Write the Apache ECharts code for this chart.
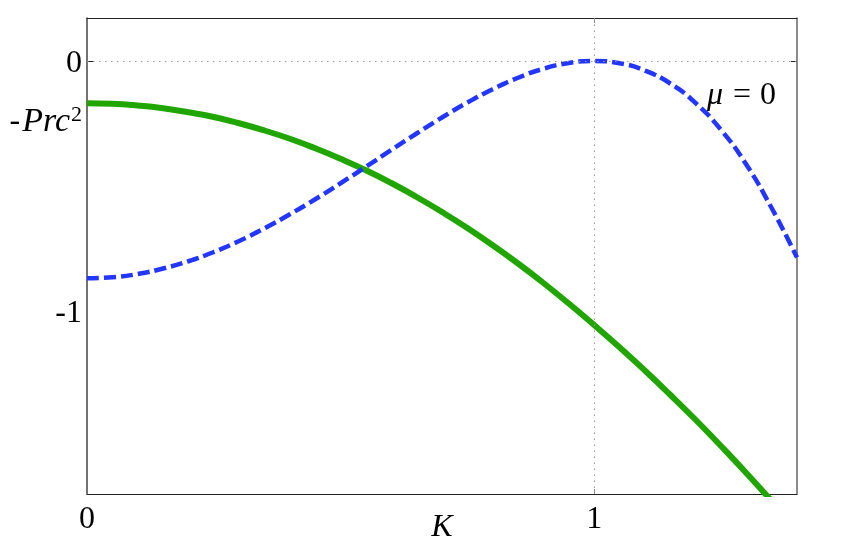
<!DOCTYPE html>
<html>
<head>
<meta charset="utf-8">
<script src="https://cdn.jsdelivr.net/npm/echarts@6/dist/echarts.min.js"></script>
<style>
html,body{margin:0;padding:0;background:#fff;}
#chart{width:842px;height:538px;}
</style>
</head>
<body>
<div id="chart"></div>
<script>
// K values (x)
const kValues = [0,0.05,0.1,0.15,0.2,0.25,0.3,0.35,0.4,0.45,0.5,0.55,0.6,0.65,0.7,0.75,0.8,0.85,0.9,0.95,1.0,1.05,1.1,1.15,1.2,1.25,1.3,1.35,1.4];
// green solid curve
const greenValues = [-0.169,-0.171,-0.178,-0.189,-0.205,-0.224,-0.249,-0.278,-0.311,-0.349,-0.391,-0.437,-0.488,-0.544,-0.604,-0.668,-0.737,-0.810,-0.888,-0.970,-1.056,-1.145,-1.238,-1.335,-1.435,-1.540,-1.648,-1.760,-1.875];
// blue dashed curve (mu = 0)
const blueValues = [-0.869,-0.865,-0.852,-0.830,-0.801,-0.764,-0.720,-0.669,-0.613,-0.553,-0.489,-0.423,-0.356,-0.290,-0.226,-0.166,-0.113,-0.067,-0.031,-0.008,0,-0.009,-0.038,-0.090,-0.168,-0.275,-0.414,-0.588,-0.786];
// tick labels
const xTickValues = [0, 1];
const xTickLabels = ['0', '1'];
const yTickValues = [0, -0.232, -1];
const yTickLabels = ['0', '{n|-}{i|Prc}{s|2}', '-1'];

const serif = '"Liberation Serif", "DejaVu Serif", serif';
const FS = 32;
const chart = echarts.init(document.getElementById('chart'));

const axisColor = '#222';
chart.setOption({
  animation: false,
  backgroundColor: '#fff',
  grid: {left: 87, top: 18, width: 710, height: 476, outerBoundsMode: 'none', containLabel: false},
  xAxis: [{
    type: 'value', min: 0, max: 1.4, position: 'bottom',
    name: 'K', nameLocation: 'middle', nameGap: 18, nameMoveOverlap: false,
    nameTextStyle: {fontFamily: serif, fontStyle: 'italic', fontSize: FS, color: '#000'},
    axisLine: {show: true, onZero: false, lineStyle: {color: axisColor, width: 1}},
    axisTick: {show: true, inside: true, length: 5, customValues: [1], lineStyle: {color: '#888'}},
    axisLabel: {customValues: xTickValues, margin: 10, fontFamily: serif, fontSize: FS, color: '#000',
      formatter: v => xTickLabels[xTickValues.indexOf(v)]},
    splitLine: {show: false}
  }, {
    type: 'value', min: 0, max: 1.4, position: 'top',
    axisLine: {show: true, onZero: false, lineStyle: {color: axisColor, width: 1}},
    axisTick: {show: true, inside: true, length: 5, customValues: [1], lineStyle: {color: '#888'}},
    axisLabel: {show: false}, splitLine: {show: false}
  }],
  yAxis: [{
    type: 'value', min: -1.732, max: 0.172, position: 'left',
    axisLine: {show: true, onZero: false, lineStyle: {color: '#444', width: 1.5}},
    axisTick: {show: true, inside: true, length: 6, customValues: [0], lineStyle: {color: '#222'}},
    axisLabel: {customValues: yTickValues, margin: 5, padding: [6,0,0,0], fontFamily: serif, fontSize: FS, color: '#000',
      formatter: v => yTickLabels[yTickValues.indexOf(v)],
      rich: {
        n: {fontFamily: serif, fontSize: FS, color: '#000', lineHeight: 36},
        i: {fontFamily: serif, fontStyle: 'italic', fontSize: 34, color: '#000', lineHeight: 36, padding: [0,1,0,2]},
        s: {fontFamily: serif, fontSize: 22, color: '#000', verticalAlign: 'top', lineHeight: 16}
      }},
    splitLine: {show: false}
  }, {
    type: 'value', min: -1.732, max: 0.172, position: 'right',
    axisLine: {show: true, onZero: false, lineStyle: {color: '#666', width: 1.5}},
    axisTick: {show: true, inside: true, length: 6, customValues: [0], lineStyle: {color: '#222'}},
    axisLabel: {show: false}, splitLine: {show: false}
  }],
  graphic: [{
    type: 'text', x: 707, y: 96, z: 100,
    style: {text: '{i|μ}{e|=}0', fontFamily: serif, fontSize: FS, fill: '#000', verticalAlign: 'middle',
      rich: {
        i: {fontFamily: serif, fontStyle: 'italic', fontSize: FS, fill: '#000'},
        e: {fontFamily: serif, fontSize: FS, fill: '#000', padding: [0, 9, 0, 10]}
      }}
  }],
  series: [{
    type: 'line', xAxisIndex: 0, yAxisIndex: 0, z: 1,
    data: [], symbol: 'none', silent: true,
    markLine: {
      silent: true, symbol: 'none', label: {show: false},
      lineStyle: {color: '#999', type: [1.5, 4.5], width: 1},
      data: [{yAxis: 0}, {xAxis: 1}]
    }
  }, {
    type: 'line', xAxisIndex: 0, yAxisIndex: 0, z: 3,
    data: kValues.map((k, i) => [k, greenValues[i]]),
    symbol: 'none', smooth: true, clip: true,
    lineStyle: {color: '#21a500', width: 6}
  }, {
    type: 'line', xAxisIndex: 0, yAxisIndex: 0, z: 4,
    data: kValues.map((k, i) => [k, blueValues[i]]),
    symbol: 'none', smooth: true, clip: true,
    lineStyle: {color: '#2236ff', width: 4.5, type: [12, 5]}
  }]
});
</script>
</body>
</html>
